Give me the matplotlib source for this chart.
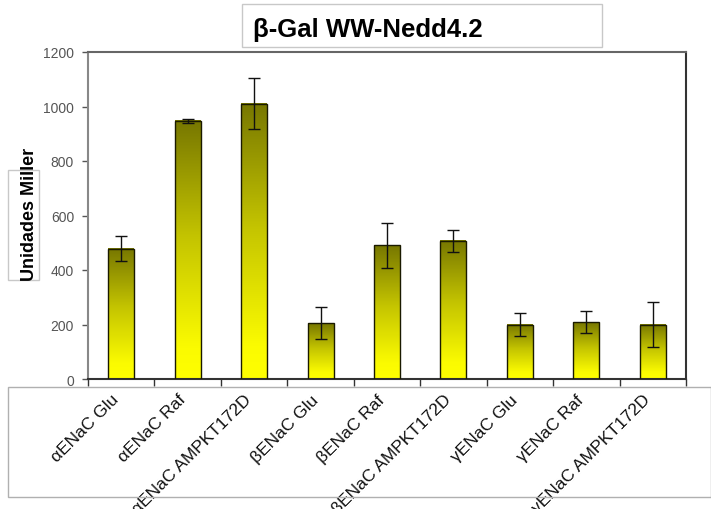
import numpy as np
import matplotlib
matplotlib.use("Agg")
import matplotlib.pyplot as plt
import matplotlib.transforms as mtransforms
from matplotlib.colors import LinearSegmentedColormap
from matplotlib.patches import Rectangle

plt.rcParams['font.family'] = ['Liberation Sans', 'DejaVu Sans']

# data
categories = ["\u03b1ENaC Glu", "\u03b1ENaC Raf", "\u03b1ENaC AMPKT172D",
              "\u03b2ENaC Glu", "\u03b2ENaC Raf", "\u03b2ENaC AMPKT172D",
              "\u03b3ENaC Glu", "\u03b3ENaC Raf", "\u03b3ENaC AMPKT172D"]
values = [478, 948, 1010, 205, 490, 507, 200, 209, 200]
errors = [45, 7, 93, 60, 82, 41, 42, 40, 83]
yticks = [0, 200, 400, 600, 800, 1000, 1200]

W, H = 711, 510
fig = plt.figure(figsize=(W / 100, H / 100), dpi=100)
ax = fig.add_axes([88 / W, (H - 380) / H, (686 - 88) / W, (380 - 53) / H])

cmap = LinearSegmentedColormap.from_list(
    "olive", [(0, "#ffff00"), (0.12, "#fbfb00"), (0.55, "#c4c400"), (1, "#777700")])
grad = np.linspace(1, 0, 256).reshape(-1, 1)

x = np.arange(len(categories))
bw = 0.39
for xi, v in zip(x, values):
    ax.imshow(grad, extent=[xi - bw / 2, xi + bw / 2, 0, v], aspect='auto',
              cmap=cmap, vmin=0, vmax=1, zorder=2, interpolation='bilinear')
    ax.add_patch(Rectangle((xi - bw / 2, 0), bw, v, fill=False,
                           edgecolor='#1a1a00', lw=1.0, zorder=3))
ax.errorbar(x, values, yerr=errors, fmt='none', ecolor='#111111',
            elinewidth=1, capsize=4, capthick=1, zorder=4)

ax.set_xlim(-0.5, len(categories) - 0.5)
ax.set_ylim(0, 1200)
ax.set_yticks(yticks)
ax.set_yticklabels([str(t) for t in yticks], fontsize=10, color='#555555')
ax.tick_params(axis='y', direction='out', length=4, width=1, color='#555555', pad=6)

ax.set_xticks(x)
ax.set_xticklabels(categories, rotation=45, ha='right', va='top',
                   rotation_mode='anchor', fontsize=12.5, color='#111111')
ax.tick_params(axis='x', which='major', length=0, pad=9)
shift = mtransforms.ScaledTranslation(-10 / 100, 0, fig.dpi_scale_trans)
for lab in ax.get_xticklabels():
    lab.set_transform(lab.get_transform() + shift)
ax.set_xticks(np.arange(len(categories) + 1) - 0.5, minor=True)
ax.tick_params(axis='x', which='minor', direction='out', length=5, width=1, color='#333333')

ax.spines['left'].set_color('#888888')
ax.spines['bottom'].set_color('#333333')
ax.spines['top'].set_color('#666666')
ax.spines['right'].set_color('#333333')
for s in ax.spines.values():
    s.set_linewidth(1.5)

# title box and text
fig.patches.append(Rectangle((242 / W, 1 - 48 / H), (602 - 242) / W, (48 - 5) / H,
                             transform=fig.transFigure, fill=False,
                             edgecolor='#c8c8c8', lw=1))
fig.text(253 / W, 1 - 30 / H, "\u03b2-Gal WW-Nedd4.2", fontsize=18.5,
         fontweight='bold', ha='left', va='center')

# y label box and text
fig.patches.append(Rectangle((8 / W, 1 - 281 / H), (39 - 8) / W, (281 - 171) / H,
                             transform=fig.transFigure, fill=False,
                             edgecolor='#c8c8c8', lw=1))
fig.text(30 / W, 1 - 214 / H, "Unidades Miller", fontsize=13, fontweight='bold',
         rotation=90, ha='center', va='center')

# category label box
fig.patches.append(Rectangle((8 / W, 1 - 498 / H), (711 - 8) / W, (498 - 388) / H,
                             transform=fig.transFigure, fill=False,
                             edgecolor='#b0b0b0', lw=1, zorder=0))

fig.savefig("out.png", dpi=100)
